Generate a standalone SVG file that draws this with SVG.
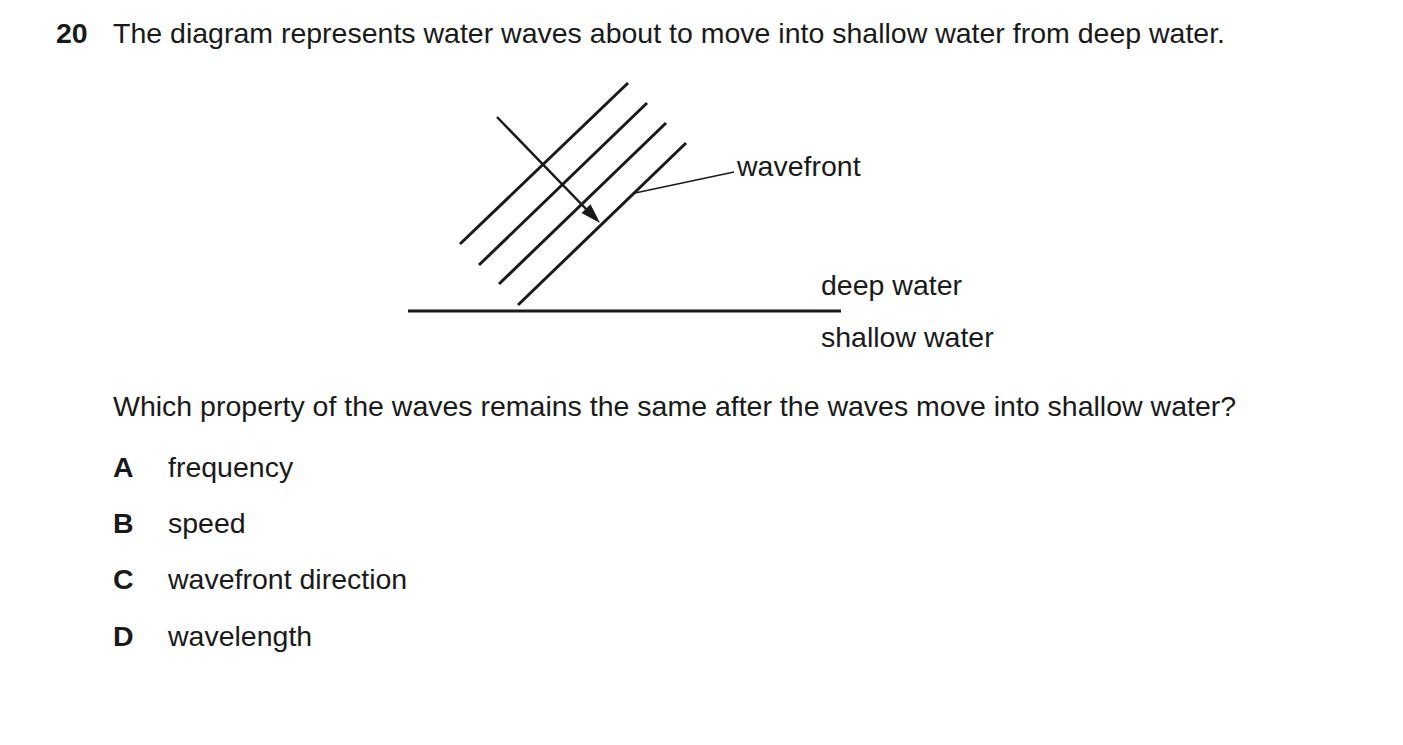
<svg xmlns="http://www.w3.org/2000/svg" width="1403" height="745" viewBox="0 0 1403 745">
<style>
text{font-family:"Liberation Sans",Arial,sans-serif;font-size:28.5px;fill:#1a1a1a}
.b{font-weight:bold}
.w{stroke:#1a1a1a;stroke-width:3;fill:none}
.t{stroke:#1a1a1a;stroke-width:1.5;fill:none}
</style>
<rect width="1403" height="745" fill="#fff"/>
<text x="56" y="43" class="b">20</text>
<text x="113" y="43">The diagram represents water waves about to move into shallow water from deep water.</text>
<g id="wavefronts">
<line class="w" x1="460" y1="244" x2="628" y2="83"/>
<line class="w" x1="479" y1="265" x2="647" y2="103"/>
<line class="w" x1="499" y1="284" x2="666" y2="123"/>
<line class="w" x1="518" y1="305" x2="686" y2="143"/>
</g>
<g id="boundary"><line class="w" x1="408" y1="311" x2="841" y2="311"/></g>
<g id="connectors">
<line x1="497" y1="117" x2="588" y2="211" stroke="#1a1a1a" stroke-width="2.5"/>
<path d="M600,223 L581.5,213 L590.5,204.3 Z" fill="#1a1a1a"/>
<line class="t" x1="635" y1="193" x2="734" y2="172"/>
</g>
<g id="labels">
<text x="737" y="176">wavefront</text>
<text x="821" y="295">deep water</text>
<text x="821" y="347">shallow water</text>
</g>
<text x="113" y="416">Which property of the waves remains the same after the waves move into shallow water?</text>
<text x="113" y="477" class="b">A</text><text x="168" y="477">frequency</text>
<text x="113" y="533" class="b">B</text><text x="168" y="533">speed</text>
<text x="113" y="589" class="b">C</text><text x="168" y="589">wavefront direction</text>
<text x="113" y="646" class="b">D</text><text x="168" y="646">wavelength</text>
</svg>
